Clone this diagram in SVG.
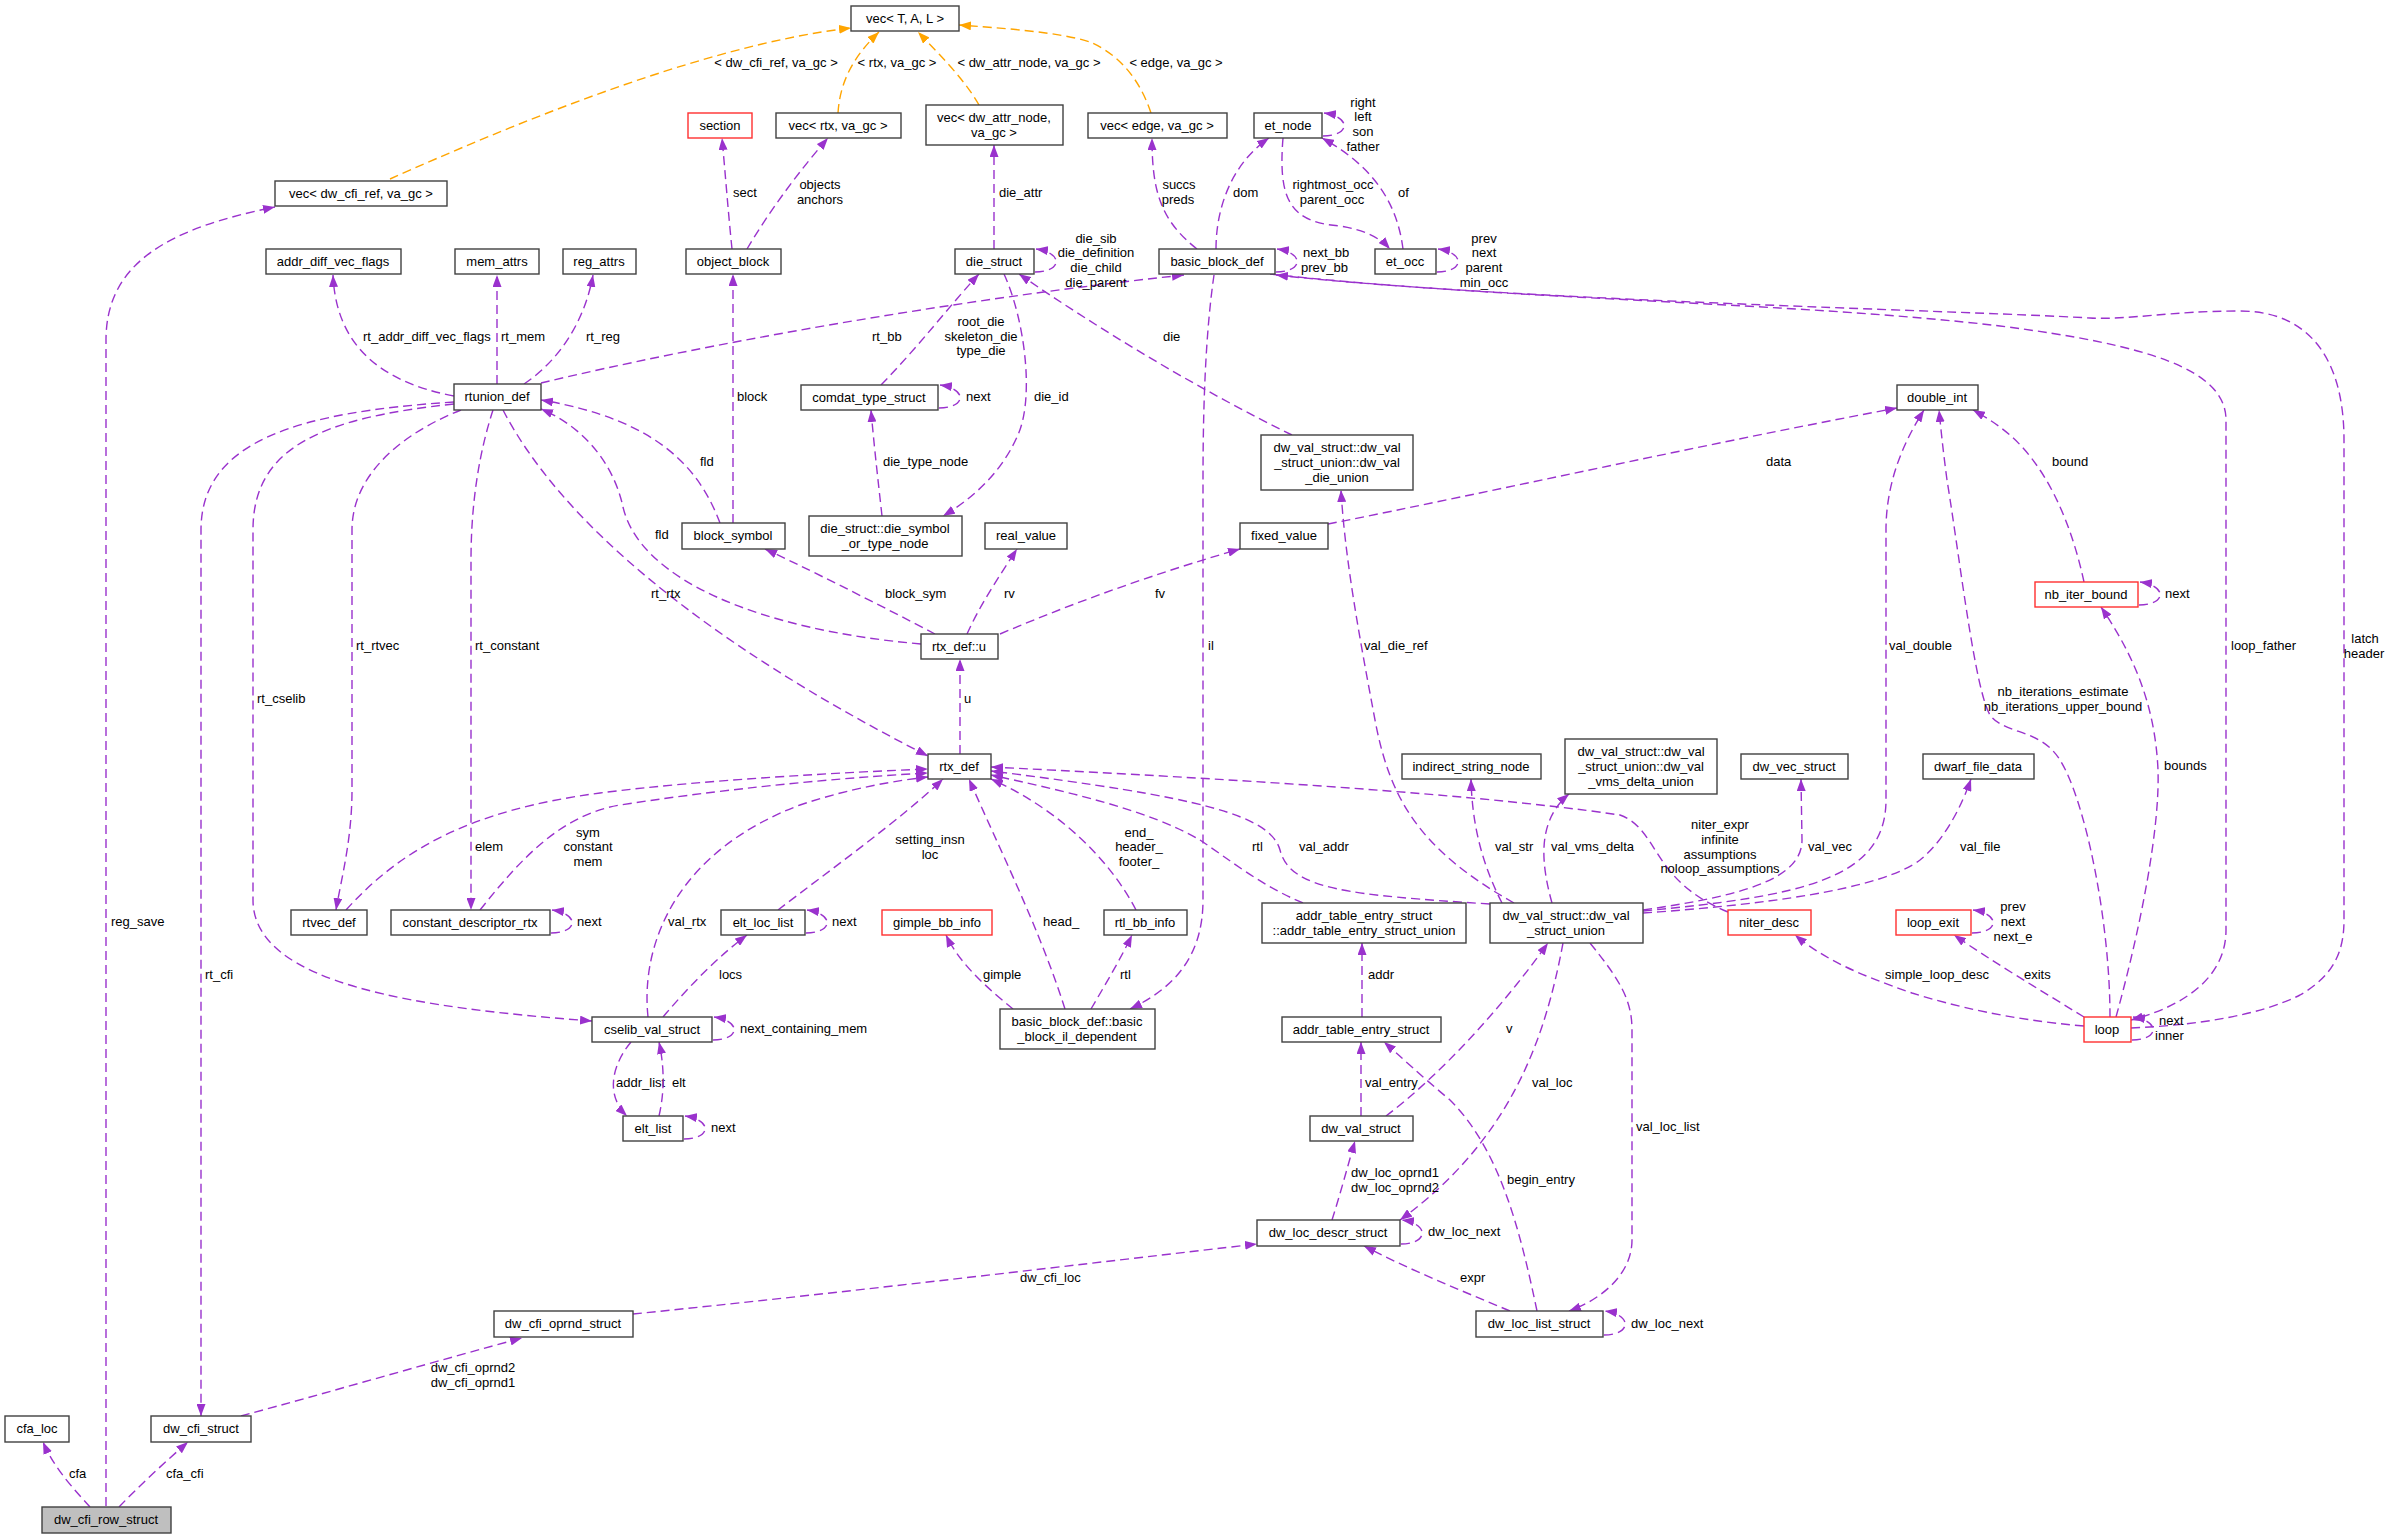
<svg xmlns="http://www.w3.org/2000/svg" width="2389" height="1536" viewBox="0 0 2389 1536">
<style>
text{font-family:"Liberation Sans",Arial,sans-serif;font-size:13px;fill:#000}
.c{text-anchor:middle}
.n rect{fill:#fff;stroke:#404040;stroke-width:1.4}
.n.r rect{stroke:#ff3030}
.n.g rect{fill:#bfbfbf}
.n text{text-anchor:middle}
.e path{fill:none;stroke:#9a32cd;stroke-width:1.4;stroke-dasharray:9,5;marker-end:url(#a)}
.o path{fill:none;stroke:#ffa500;stroke-width:1.4;stroke-dasharray:9,5;marker-end:url(#b)}
</style>
<defs>
<marker id="a" viewBox="0 0 12 9" refX="12" refY="4.5" markerWidth="12" markerHeight="9" markerUnits="userSpaceOnUse" orient="auto"><path d="M0,0L12,4.5L0,9z" fill="#9a32cd"/></marker>
<marker id="b" viewBox="0 0 12 9" refX="12" refY="4.5" markerWidth="12" markerHeight="9" markerUnits="userSpaceOnUse" orient="auto"><path d="M0,0L12,4.5L0,9z" fill="#ffa500"/></marker>
</defs>
<rect width="2389" height="1536" fill="#fff"/>
<g id="edges">
<g class="o"><path d="M390,179 C500,130 700,45 851,28"/><text class="c" x="776" y="67">&lt; dw_cfi_ref, va_gc &gt;</text></g>
<g class="o"><path d="M838,113 C840,80 855,55 879,32"/><text class="c" x="897" y="67">&lt; rtx, va_gc &gt;</text></g>
<g class="o"><path d="M979,105 C965,80 940,55 918,32"/><text class="c" x="1029" y="67">&lt; dw_attr_node, va_gc &gt;</text></g>
<g class="o"><path d="M1151,113 C1140,80 1120,55 1090,42 C1060,32 1000,28 959,25"/><text class="c" x="1176" y="67">&lt; edge, va_gc &gt;</text></g>

<g class="e"><path d="M106,1506 L106,340 C106,262 170,228 275,207"/><text x="111" y="926">reg_save</text></g>
<g class="e"><path d="M90,1507 C75,1490 55,1470 43,1442"/><text x="69" y="1478">cfa</text></g>
<g class="e"><path d="M119,1507 C140,1485 165,1462 188,1442"/><text x="166" y="1478">cfa_cfi</text></g>
<g class="e"><path d="M241,1416 C330,1392 440,1360 522,1338"/><text class="c" x="473" y="1372">dw_cfi_oprnd2</text><text class="c" x="473" y="1387">dw_cfi_oprnd1</text></g>
<g class="e"><path d="M633,1314 C850,1292 1100,1262 1257,1244"/><text x="1020" y="1282">dw_cfi_loc</text></g>
<g class="e"><path d="M454,396 C380,382 336,345 333,275"/><text x="363" y="341">rt_addr_diff_vec_flags</text></g>
<g class="e"><path d="M497,384 L497,275"/><text x="501" y="341">rt_mem</text></g>
<g class="e"><path d="M524,384 C560,360 585,320 593,275"/><text x="586" y="341">rt_reg</text></g>
<g class="e"><path d="M541,383 C700,345 950,300 1184,275"/><text x="872" y="341">rt_bb</text></g>
<g class="e"><path d="M454,402 C300,412 201,440 201,530 L201,1416"/><text x="205" y="979">rt_cfi</text></g>
<g class="e"><path d="M454,404 C320,418 253,448 253,530 L253,900 C253,985 420,1008 592,1021"/><text x="257" y="703">rt_cselib</text></g>
<g class="e"><path d="M461,410 C410,430 352,470 352,530 L352,790 C352,840 341,880 336,910"/><text x="356" y="650">rt_rtvec</text></g>
<g class="e"><path d="M493,410 C480,450 471,500 471,560 L471,910"/><text x="475" y="650">rt_constant</text></g>
<g class="e"><path d="M503,410 C560,520 700,640 928,756"/><text x="651" y="598">rt_rtx</text></g>
<g class="e"><path d="M720,523 C700,470 660,420 541,400"/><text x="700" y="466">fld</text></g>
<g class="e"><path d="M921,644 C760,630 640,580 623,507 C615,470 590,430 541,409"/><text x="655" y="539">fld</text></g>
<g class="e"><path d="M935,634 C880,605 800,565 765,549"/><text x="885" y="598">block_sym</text></g>
<g class="e"><path d="M967,634 C980,605 1000,575 1017,549"/><text x="1004" y="598">rv</text></g>
<g class="e"><path d="M1000,634 C1080,600 1160,572 1240,549"/><text x="1155" y="598">fv</text></g>
<g class="e"><path d="M960,754 L960,659"/><text x="964" y="703">u</text></g>
<g class="e"><path d="M346,910 C400,850 470,810 600,793 C700,780 850,772 928,769"/><text x="475" y="851">elem</text></g>
<g class="e"><path d="M480,910 C520,860 560,815 620,805 C750,785 870,776 928,773"/><text class="c" x="588" y="837">sym</text><text class="c" x="588" y="851">constant</text><text class="c" x="588" y="866">mem</text></g>
<g class="e"><path d="M648,1017 C640,940 680,850 800,805 C850,788 900,780 928,777"/><text x="668" y="926">val_rtx</text></g>
<g class="e"><path d="M778,910 C830,870 900,820 943,779"/><text class="c" x="930" y="844">setting_insn</text><text class="c" x="930" y="859">loc</text></g>
<g class="e"><path d="M1065,1009 C1040,930 1000,850 969,779"/><text x="1043" y="926">head_</text></g>
<g class="e"><path d="M1136,910 C1110,860 1060,810 991,779"/><text class="c" x="1139" y="837">end_</text><text class="c" x="1139" y="851">header_</text><text class="c" x="1139" y="866">footer_</text></g>
<g class="e"><path d="M1728,912 C1650,880 1660,830 1620,815 C1450,790 1150,775 991,767"/><text class="c" x="1720" y="829">niter_expr</text><text class="c" x="1720" y="844">infinite</text><text class="c" x="1720" y="859">assumptions</text><text class="c" x="1720" y="873">noloop_assumptions</text></g>
<g class="e"><path d="M1490,904 C1350,895 1290,890 1280,850 C1270,815 1200,797 991,771"/><text x="1299" y="851">val_addr</text></g>
<g class="e"><path d="M1303,903 C1260,885 1230,860 1200,840 C1150,810 1060,790 991,775"/><text x="1252" y="851">rtl</text></g>
<g class="e"><path d="M1514,903 C1420,850 1390,800 1375,720 C1360,640 1345,560 1341,490"/><text x="1364" y="650">val_die_ref</text></g>
<g class="e"><path d="M1502,903 C1480,860 1472,820 1471,779"/><text x="1495" y="851">val_str</text></g>
<g class="e"><path d="M1552,903 C1540,860 1538,820 1569,794"/><text x="1551" y="851">val_vms_delta</text></g>
<g class="e"><path d="M1643,910 C1740,896 1802,880 1802,840 L1801,779"/><text x="1808" y="851">val_vec</text></g>
<g class="e"><path d="M1643,913 C1760,905 1880,890 1920,860 C1945,840 1962,805 1971,779"/><text x="1960" y="851">val_file</text></g>
<g class="e"><path d="M1643,911 C1800,896 1886,880 1886,800 L1886,530 C1886,480 1905,440 1924,410"/><text x="1889" y="650">val_double</text></g>
<g class="e"><path d="M1386,1116 C1440,1075 1500,1010 1548,943"/><text x="1506" y="1033">v</text></g>
<g class="e"><path d="M1563,943 C1545,1040 1510,1140 1400,1220"/><text x="1532" y="1087">val_loc</text></g>
<g class="e"><path d="M1590,943 C1620,980 1632,1000 1632,1030 L1632,1240 C1632,1275 1600,1300 1569,1311"/><text x="1636" y="1131">val_loc_list</text></g>
<g class="e"><path d="M1361,1116 L1361,1042"/><text x="1365" y="1087">val_entry</text></g>
<g class="e"><path d="M1362,1017 L1362,943"/><text x="1368" y="979">addr</text></g>
<g class="e"><path d="M1537,1311 C1520,1230 1500,1150 1450,1100 C1420,1075 1400,1056 1384,1042"/><text x="1507" y="1184">begin_entry</text></g>
<g class="e"><path d="M1510,1311 C1460,1290 1410,1270 1364,1246"/><text x="1460" y="1282">expr</text></g>
<g class="e"><path d="M1332,1220 C1340,1195 1348,1165 1355,1141"/><text class="c" x="1395" y="1177">dw_loc_oprnd1</text><text class="c" x="1395" y="1192">dw_loc_oprnd2</text></g>
<g class="e"><path d="M631,1042 C612,1065 605,1095 627,1116"/><text x="616" y="1087">addr_list</text></g>
<g class="e"><path d="M659,1116 C665,1090 664,1065 659,1042"/><text x="672" y="1087">elt</text></g>
<g class="e"><path d="M663,1017 C690,985 720,955 747,935"/><text x="719" y="979">locs</text></g>
<g class="e"><path d="M1013,1009 C990,990 960,965 946,935"/><text x="983" y="979">gimple</text></g>
<g class="e"><path d="M1091,1009 C1105,985 1120,960 1132,935"/><text x="1120" y="979">rtl</text></g>
<g class="e"><path d="M1214,275 C1206,330 1203,400 1203,480 L1203,900 C1203,960 1170,990 1130,1009"/><text x="1208" y="650">il</text></g>
<g class="e"><path d="M994,249 L994,145"/><text x="999" y="197">die_attr</text></g>
<g class="e"><path d="M881,385 C920,345 950,305 979,274"/><text class="c" x="981" y="326">root_die</text><text class="c" x="981" y="341">skeleton_die</text><text class="c" x="981" y="355">type_die</text></g>
<g class="e"><path d="M1004,274 C1025,320 1035,400 1017,437 C1000,475 970,500 943,516"/><text x="1034" y="401">die_id</text></g>
<g class="e"><path d="M882,516 C878,480 874,445 871,410"/><text x="883" y="466">die_type_node</text></g>
<g class="e"><path d="M1292,435 C1200,390 1100,330 1019,274"/><text x="1163" y="341">die</text></g>
<g class="e"><path d="M732,249 C728,210 725,170 722,138"/><text x="733" y="197">sect</text></g>
<g class="e"><path d="M747,249 C770,210 800,170 828,138"/><text class="c" x="820" y="189">objects</text><text class="c" x="820" y="204">anchors</text></g>
<g class="e"><path d="M733,523 L733,274"/><text x="737" y="401">block</text></g>
<g class="e"><path d="M1197,249 C1160,220 1152,190 1152,138"/><text class="c" x="1179" y="189">succs</text><text class="c" x="1178" y="204">preds</text></g>
<g class="e"><path d="M1216,249 C1216,210 1230,165 1269,138"/><text x="1233" y="197">dom</text></g>
<g class="e"><path d="M1283,138 C1278,200 1290,222 1340,226 C1365,230 1380,238 1390,249"/><text class="c" x="1333" y="189">rightmost_occ</text><text class="c" x="1332" y="204">parent_occ</text></g>
<g class="e"><path d="M1403,249 C1398,210 1380,170 1322,138"/><text x="1398" y="197">of</text></g>
<g class="e"><path d="M1270,274 C1500,300 1800,302 2000,326 C2150,345 2226,370 2226,420 L2226,930 C2226,985 2170,1010 2131,1020"/><text x="2231" y="650">loop_father</text></g>
<g class="e"><path d="M2131,1028 C2200,1025 2260,1015 2300,995 C2335,975 2344,950 2344,920 L2344,440 C2344,360 2310,311 2240,311 C2170,311 2130,320 2090,318 C1950,310 1500,300 1276,275"/><text class="c" x="2365" y="643">latch</text><text class="c" x="2364" y="658">header</text></g>
<g class="e"><path d="M2084,1017 C2040,990 1990,960 1954,935"/><text x="2024" y="979">exits</text></g>
<g class="e"><path d="M2084,1026 C2010,1020 1950,1005 1912,993 C1860,975 1825,960 1795,935"/><text x="1885" y="979">simple_loop_desc</text></g>
<g class="e"><path d="M2116,1017 C2140,930 2160,830 2158,770 C2155,700 2130,650 2101,607"/><text x="2164" y="770">bounds</text></g>
<g class="e"><path d="M2110,1017 C2110,920 2085,800 2060,760 C2040,728 2005,735 1990,715 C1975,690 1960,560 1947,480 C1943,450 1941,430 1939,410"/><text class="c" x="2063" y="696">nb_iterations_estimate</text><text class="c" x="2063" y="711">nb_iterations_upper_bound</text></g>
<g class="e"><path d="M2084,582 C2075,540 2060,500 2040,470 C2020,440 2000,425 1973,410"/><text x="2052" y="466">bound</text></g>
<g class="e"><path d="M1328,524 C1500,490 1700,445 1897,408"/><text x="1766" y="466">data</text></g>

<g class="e"><path d="M1035,272 C1062,272 1064,253 1036,249"/><text class="c" x="1096" y="243">die_sib</text><text class="c" x="1096" y="257">die_definition</text><text class="c" x="1096" y="272">die_child</text><text class="c" x="1096" y="287">die_parent</text></g>
<g class="e"><path d="M1276,272 C1303,272 1305,253 1277,249"/><text x="1303" y="257">next_bb</text><text x="1301" y="272">prev_bb</text></g>
<g class="e"><path d="M1323,136 C1350,136 1352,117 1324,113"/><text class="c" x="1363" y="107">right</text><text class="c" x="1363" y="121">left</text><text class="c" x="1363" y="136">son</text><text class="c" x="1363" y="151">father</text></g>
<g class="e"><path d="M1437,272 C1464,272 1466,253 1438,249"/><text class="c" x="1484" y="243">prev</text><text class="c" x="1484" y="257">next</text><text class="c" x="1484" y="272">parent</text><text class="c" x="1484" y="287">min_occ</text></g>
<g class="e"><path d="M939,408 C966,408 968,389 940,385"/><text x="966" y="401">next</text></g>
<g class="e"><path d="M551,933 C578,933 580,914 552,910"/><text x="577" y="926">next</text></g>
<g class="e"><path d="M806,933 C833,933 835,914 807,910"/><text x="832" y="926">next</text></g>
<g class="e"><path d="M713,1040 C740,1040 742,1021 714,1017"/><text x="740" y="1033">next_containing_mem</text></g>
<g class="e"><path d="M684,1139 C711,1139 713,1120 685,1116"/><text x="711" y="1132">next</text></g>
<g class="e"><path d="M2139,605 C2166,605 2168,586 2140,582"/><text x="2165" y="598">next</text></g>
<g class="e"><path d="M1972,933 C1999,933 2001,914 1973,910"/><text class="c" x="2013" y="911">prev</text><text class="c" x="2013" y="926">next</text><text class="c" x="2013" y="941">next_e</text></g>
<g class="e"><path d="M2132,1040 C2159,1040 2161,1021 2133,1017"/><text x="2159" y="1025">next</text><text x="2155" y="1040">inner</text></g>
<g class="e"><path d="M1401,1244 C1428,1244 1430,1224 1402,1220"/><text x="1428" y="1236">dw_loc_next</text></g>
<g class="e"><path d="M1604,1335 C1631,1335 1633,1315 1605,1311"/><text x="1631" y="1328">dw_loc_next</text></g>
</g>

<g id="nodes">
<g id="n_vec_tal" class="n"><rect x="851" y="6" width="108" height="25"/><text x="905" y="23">vec&lt; T, A, L &gt;</text></g>
<g id="n_vec_cfi" class="n"><rect x="275" y="181" width="172" height="25"/><text x="361" y="198">vec&lt; dw_cfi_ref, va_gc &gt;</text></g>
<g id="n_section" class="n r"><rect x="688" y="113" width="64" height="25"/><text x="720" y="130">section</text></g>
<g id="n_vec_rtx" class="n"><rect x="776" y="113" width="125" height="25"/><text x="838" y="130">vec&lt; rtx, va_gc &gt;</text></g>
<g id="n_vec_attr" class="n"><rect x="926" y="105" width="137" height="40"/><text x="994" y="122">vec&lt; dw_attr_node,</text><text x="994" y="137">va_gc &gt;</text></g>
<g id="n_vec_edge" class="n"><rect x="1088" y="113" width="139" height="25"/><text x="1157" y="130">vec&lt; edge, va_gc &gt;</text></g>
<g id="n_et_node" class="n"><rect x="1254" y="113" width="68" height="25"/><text x="1288" y="130">et_node</text></g>
<g id="n_addr_diff" class="n"><rect x="266" y="249" width="135" height="25"/><text x="333" y="266">addr_diff_vec_flags</text></g>
<g id="n_mem_attrs" class="n"><rect x="455" y="249" width="84" height="25"/><text x="497" y="266">mem_attrs</text></g>
<g id="n_reg_attrs" class="n"><rect x="563" y="249" width="73" height="25"/><text x="599" y="266">reg_attrs</text></g>
<g id="n_object_block" class="n"><rect x="686" y="249" width="95" height="25"/><text x="733" y="266">object_block</text></g>
<g id="n_die_struct" class="n"><rect x="955" y="249" width="79" height="25"/><text x="994" y="266">die_struct</text></g>
<g id="n_bbd" class="n"><rect x="1159" y="249" width="116" height="25"/><text x="1217" y="266">basic_block_def</text></g>
<g id="n_et_occ" class="n"><rect x="1375" y="249" width="61" height="25"/><text x="1405" y="266">et_occ</text></g>
<g id="n_rtunion" class="n"><rect x="454" y="384" width="87" height="26"/><text x="497" y="401">rtunion_def</text></g>
<g id="n_comdat" class="n"><rect x="801" y="385" width="137" height="25"/><text x="869" y="402">comdat_type_struct</text></g>
<g id="n_double_int" class="n"><rect x="1897" y="385" width="81" height="25"/><text x="1937" y="402">double_int</text></g>
<g id="n_die_union" class="n"><rect x="1261" y="435" width="152" height="55"/><text x="1337" y="452">dw_val_struct::dw_val</text><text x="1337" y="467">_struct_union::dw_val</text><text x="1337" y="482">_die_union</text></g>
<g id="n_block_symbol" class="n"><rect x="682" y="523" width="103" height="26"/><text x="733" y="540">block_symbol</text></g>
<g id="n_die_sym" class="n"><rect x="809" y="516" width="153" height="40"/><text x="885" y="533">die_struct::die_symbol</text><text x="885" y="548">_or_type_node</text></g>
<g id="n_real_value" class="n"><rect x="985" y="523" width="82" height="26"/><text x="1026" y="540">real_value</text></g>
<g id="n_fixed_value" class="n"><rect x="1240" y="523" width="88" height="26"/><text x="1284" y="540">fixed_value</text></g>
<g id="n_nb_iter" class="n r"><rect x="2035" y="582" width="103" height="25"/><text x="2086" y="599">nb_iter_bound</text></g>
<g id="n_rtx_u" class="n"><rect x="921" y="634" width="77" height="25"/><text x="959" y="651">rtx_def::u</text></g>
<g id="n_rtx_def" class="n"><rect x="928" y="754" width="63" height="25"/><text x="959" y="771">rtx_def</text></g>
<g id="n_indirect" class="n"><rect x="1402" y="754" width="139" height="25"/><text x="1471" y="771">indirect_string_node</text></g>
<g id="n_vms" class="n"><rect x="1565" y="739" width="152" height="55"/><text x="1641" y="756">dw_val_struct::dw_val</text><text x="1641" y="771">_struct_union::dw_val</text><text x="1641" y="786">_vms_delta_union</text></g>
<g id="n_dw_vec" class="n"><rect x="1741" y="754" width="107" height="25"/><text x="1794" y="771">dw_vec_struct</text></g>
<g id="n_dwarf_file" class="n"><rect x="1923" y="754" width="111" height="25"/><text x="1978" y="771">dwarf_file_data</text></g>
<g id="n_rtvec" class="n"><rect x="291" y="910" width="76" height="25"/><text x="329" y="927">rtvec_def</text></g>
<g id="n_const_desc" class="n"><rect x="391" y="910" width="159" height="25"/><text x="470" y="927">constant_descriptor_rtx</text></g>
<g id="n_elt_loc_list" class="n"><rect x="721" y="910" width="84" height="25"/><text x="763" y="927">elt_loc_list</text></g>
<g id="n_gimple_bb" class="n r"><rect x="882" y="910" width="110" height="25"/><text x="937" y="927">gimple_bb_info</text></g>
<g id="n_rtl_bb" class="n"><rect x="1104" y="910" width="83" height="25"/><text x="1145" y="927">rtl_bb_info</text></g>
<g id="n_ate_union" class="n"><rect x="1262" y="903" width="204" height="40"/><text x="1364" y="920">addr_table_entry_struct</text><text x="1364" y="935">::addr_table_entry_struct_union</text></g>
<g id="n_val_union" class="n"><rect x="1490" y="903" width="153" height="40"/><text x="1566" y="920">dw_val_struct::dw_val</text><text x="1566" y="935">_struct_union</text></g>
<g id="n_niter" class="n r"><rect x="1728" y="910" width="83" height="25"/><text x="1769" y="927">niter_desc</text></g>
<g id="n_loop_exit" class="n r"><rect x="1896" y="910" width="75" height="25"/><text x="1933" y="927">loop_exit</text></g>
<g id="n_cselib" class="n"><rect x="592" y="1017" width="120" height="25"/><text x="652" y="1034">cselib_val_struct</text></g>
<g id="n_bbil" class="n"><rect x="1000" y="1009" width="155" height="40"/><text x="1077" y="1026">basic_block_def::basic</text><text x="1077" y="1041">_block_il_dependent</text></g>
<g id="n_ate" class="n"><rect x="1282" y="1017" width="159" height="25"/><text x="1361" y="1034">addr_table_entry_struct</text></g>
<g id="n_loop" class="n r"><rect x="2084" y="1017" width="47" height="25"/><text x="2107" y="1034">loop</text></g>
<g id="n_elt_list" class="n"><rect x="623" y="1116" width="60" height="25"/><text x="653" y="1133">elt_list</text></g>
<g id="n_dw_val" class="n"><rect x="1310" y="1116" width="103" height="25"/><text x="1361" y="1133">dw_val_struct</text></g>
<g id="n_loc_descr" class="n"><rect x="1257" y="1220" width="143" height="26"/><text x="1328" y="1237">dw_loc_descr_struct</text></g>
<g id="n_cfi_oprnd" class="n"><rect x="494" y="1311" width="139" height="26"/><text x="563" y="1328">dw_cfi_oprnd_struct</text></g>
<g id="n_loc_list" class="n"><rect x="1476" y="1311" width="127" height="26"/><text x="1539" y="1328">dw_loc_list_struct</text></g>
<g id="n_cfa_loc" class="n"><rect x="5" y="1416" width="64" height="26"/><text x="37" y="1433">cfa_loc</text></g>
<g id="n_cfi_struct" class="n"><rect x="151" y="1416" width="100" height="26"/><text x="201" y="1433">dw_cfi_struct</text></g>
<g id="n_cfi_row" class="n g"><rect x="42" y="1507" width="129" height="26"/><text x="106" y="1524">dw_cfi_row_struct</text></g>
</g>
</svg>
